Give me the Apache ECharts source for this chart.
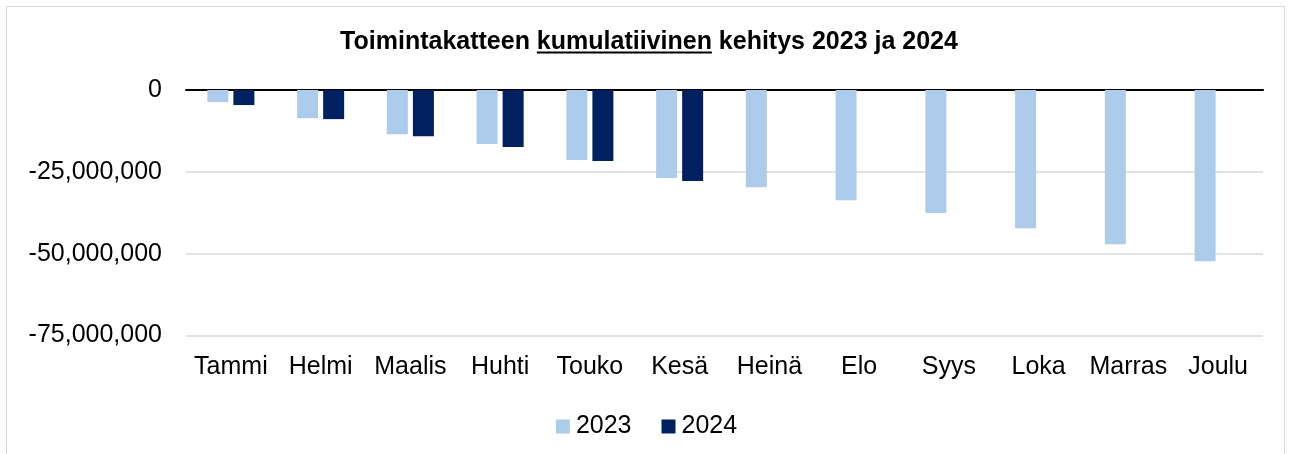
<!DOCTYPE html>
<html>
<head>
<meta charset="utf-8">
<script src="https://cdn.jsdelivr.net/npm/echarts@6/dist/echarts.min.js"></script>
<style>
  html, body { margin: 0; padding: 0; background: #fff; }
  #frame { position: absolute; left: 6px; top: 6px; width: 1277px; height: 470px; border: 1.5px solid #d9d9d9; }
  #chart { position: absolute; left: 0; top: 0; width: 1293px; height: 454px; }
</style>
</head>
<body>
<div id="frame"></div>
<div id="chart"></div>
<script>
// kuukaudet ja kumulatiivinen toimintakate (euroa)
const months = ['Tammi', 'Helmi', 'Maalis', 'Huhti', 'Touko', 'Kesä', 'Heinä', 'Elo', 'Syys', 'Loka', 'Marras', 'Joulu']
const values2023 = [-3700000, -8600000, -13500000, -16500000, -21400000, -26900000, -29700000, -33700000, -37600000, -42200000, -47100000, -52300000]
const values2024 = [-4600000, -8900000, -14100000, -17400000, -21700000, -27800000, null, null, null, null, null, null]
const yTicks = [0, -25000000, -50000000, -75000000]

const titleParts = ['Toimintakatteen ', 'kumulatiivinen', ' kehitys 2023 ja 2024']
const fontFamily = '"Liberation Sans", Arial, sans-serif'
const titleSize = 25
const labelSize = 25

const chart = echarts.init(document.getElementById('chart'))

// alleviivauksen paikka lasketaan tekstin leveydestä
const ctx = document.createElement('canvas').getContext('2d')
ctx.font = `bold ${titleSize}px ${fontFamily}`
const w0 = ctx.measureText(titleParts[0]).width
const w1 = ctx.measureText(titleParts[1]).width
const wAll = ctx.measureText(titleParts.join('')).width
const titleCenter = 649
const titleStart = titleCenter - wAll / 2

const fmt = (v) => (v === 0 ? '0' : v.toLocaleString('en-US'))

chart.setOption({
  animation: false,
  title: {
    text: titleParts.join(''),
    left: titleStart - 5,
    top: 25,
    textStyle: { fontFamily, fontSize: titleSize, fontWeight: 'bold', color: '#000' },
  },
  graphic: [
    {
      type: 'line',
      shape: { x1: titleStart + w0, y1: 52.5, x2: titleStart + w0 + w1, y2: 52.5 },
      style: { stroke: '#000', lineWidth: 1.8 },
    },
  ],
  legend: {
    data: ['2023', '2024'],
    bottom: 10,
    left: 'center',
    icon: 'rect',
    itemWidth: 14,
    itemHeight: 14,
    itemGap: 30,
    textStyle: { fontFamily, fontSize: labelSize, color: '#000', padding: [0, 0, 0, 1] },
  },
  grid: { left: 186, right: 30, top: 90, bottom: 118.5 },
  xAxis: [
    {
      type: 'category',
      data: months,
      position: 'bottom',
      axisLine: { show: false, onZero: false },
      axisTick: { show: false },
      axisLabel: { fontFamily, fontSize: labelSize, color: '#000', margin: 19, interval: 0 },
    },
    {
      type: 'category',
      data: months,
      position: 'top',
      axisLine: { show: true, onZero: false, lineStyle: { color: '#000', width: 2.2 } },
      axisTick: { show: false },
      axisLabel: { show: false },
    },
  ],
  yAxis: {
    type: 'value',
    min: yTicks[yTicks.length - 1],
    max: yTicks[0],
    interval: 25000000,
    axisLine: { show: false },
    axisTick: { show: false },
    axisLabel: { fontFamily, fontSize: labelSize, color: '#000', margin: 24, formatter: fmt },
    splitLine: { lineStyle: { color: '#d9d9d9', width: 1.6 } },
  },
  series: [
    {
      name: '2023',
      type: 'bar',
      data: values2023,
      barWidth: 21,
      barGap: '24%',
      itemStyle: { color: '#adcbea' },
    },
    {
      name: '2024',
      type: 'bar',
      data: values2024,
      barWidth: 21,
      itemStyle: { color: '#002060' },
    },
  ],
})
</script>
</body>
</html>
